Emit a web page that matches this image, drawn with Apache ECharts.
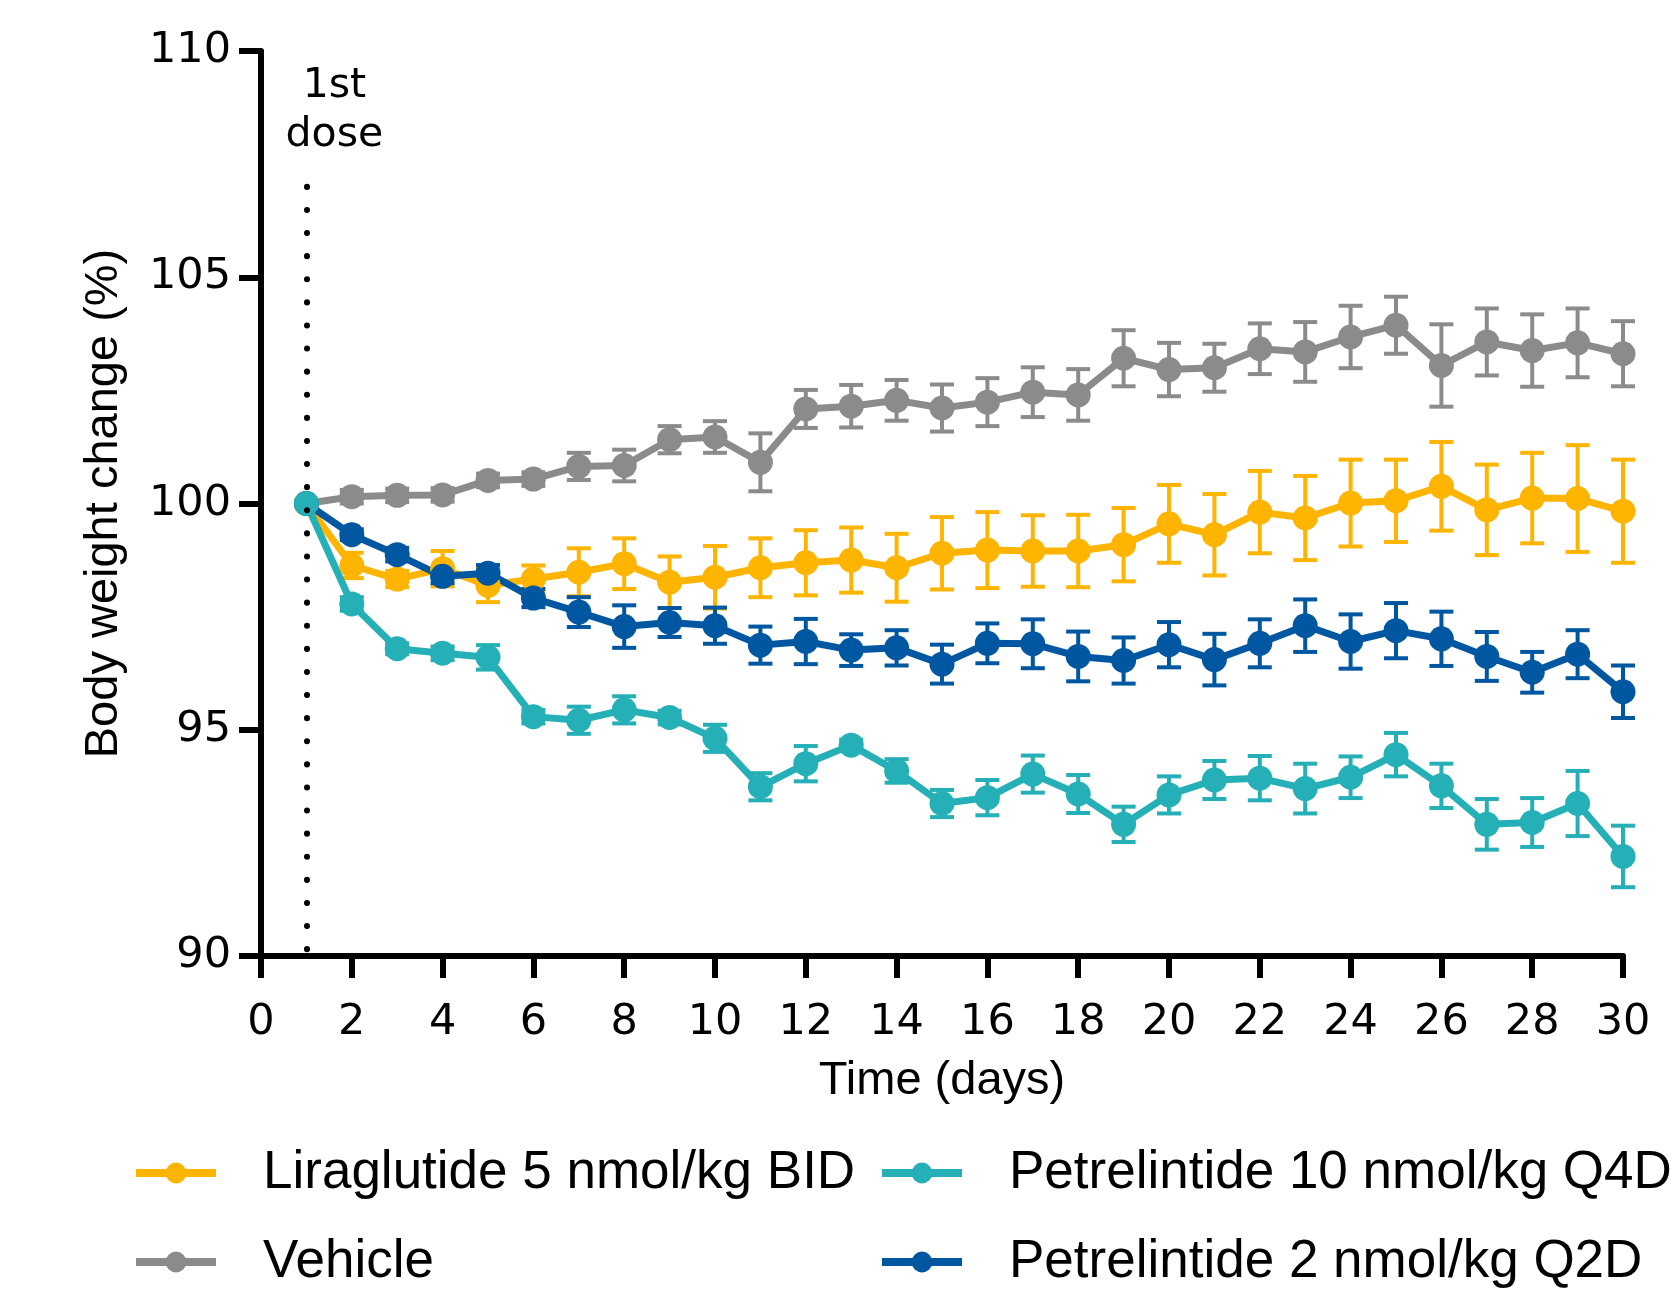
<!DOCTYPE html>
<html>
<head>
<meta charset="utf-8">
<script src="https://cdn.jsdelivr.net/npm/echarts@6/dist/echarts.min.js"></script>
<style>
  html, body { margin: 0; padding: 0; background: #fff; }
  #chart { width: 1679px; height: 1293px; }
</style>
</head>
<body>
<div id="chart"></div>
<script>
// ---- Data ----
const days = [1,2,3,4,5,6,7,8,9,10,11,12,13,14,15,16,17,18,19,20,21,22,23,24,25,26,27,28,29,30];

const seriesNames = [
  'Liraglutide 5 nmol/kg BID',
  'Vehicle',
  'Petrelintide 10 nmol/kg Q4D',
  'Petrelintide 2 nmol/kg Q2D'
];

const vehicle = [100.0,100.15,100.18,100.19,100.51,100.54,100.82,100.84,101.41,101.47,100.91,102.09,102.15,102.28,102.11,102.24,102.46,102.40,103.21,102.96,103.00,103.42,103.35,103.68,103.94,103.05,103.57,103.38,103.55,103.31];
const vehicleSem = [0,0.15,0.15,0.15,0.15,0.15,0.3,0.35,0.3,0.35,0.64,0.42,0.47,0.45,0.52,0.53,0.55,0.57,0.62,0.59,0.53,0.56,0.66,0.69,0.63,0.91,0.74,0.80,0.76,0.72];

const liraglutide = [100.0,98.63,98.33,98.56,98.19,98.33,98.48,98.67,98.26,98.37,98.58,98.69,98.75,98.58,98.90,98.97,98.95,98.95,99.09,99.55,99.31,99.81,99.68,100.01,100.06,100.38,99.86,100.12,100.11,99.83];
const liraglutideSem = [0,0.28,0.18,0.39,0.37,0.3,0.53,0.56,0.57,0.69,0.65,0.72,0.72,0.75,0.80,0.84,0.79,0.80,0.81,0.86,0.90,0.91,0.93,0.96,0.91,0.98,1.0,1.0,1.18,1.14];

const petrelintide2 = [100.0,99.31,98.87,98.39,98.46,97.91,97.60,97.28,97.37,97.30,96.87,96.95,96.76,96.81,96.45,96.91,96.90,96.62,96.53,96.88,96.55,96.91,97.30,96.95,97.19,97.01,96.62,96.27,96.67,95.84];
const petrelintide2Sem = [0,0.12,0.15,0.15,0.18,0.2,0.33,0.47,0.32,0.4,0.41,0.5,0.35,0.39,0.43,0.44,0.54,0.55,0.51,0.5,0.57,0.53,0.58,0.6,0.61,0.6,0.54,0.45,0.53,0.58];

const petrelintide10 = [100.0,97.78,96.79,96.69,96.60,95.29,95.21,95.44,95.27,94.81,93.74,94.25,94.66,94.09,93.37,93.50,94.02,93.58,92.91,93.56,93.89,93.93,93.70,93.95,94.45,93.76,92.91,92.95,93.37,92.20];
const petrelintide10Sem = [0,0.15,0.12,0.15,0.27,0.15,0.3,0.3,0.15,0.3,0.3,0.39,0.12,0.26,0.3,0.39,0.41,0.42,0.39,0.41,0.42,0.49,0.55,0.46,0.48,0.49,0.56,0.54,0.72,0.68];

const xTicks = { min: 0, max: 30, interval: 2 };
const yTicks = { min: 90, max: 110, interval: 5 };

const doseDay = 1;
const doseLineRange = [90.15, 107.1];
const doseLabel = '1st\ndose';

// ---- Styles ----
const colors = {
  vehicle: '#8a8c8c',
  lira: '#ffb400',
  pet10: '#25afb6',
  pet2: '#0057a1'
};
const AXIS_FONT = 'DejaVu Sans, Verdana, sans-serif';
const TITLE_FONT = 'Liberation Sans, Arial, sans-serif';

function pairs(vals) { return days.map((d, i) => [d, vals[i]]); }
function errPairs(vals, sem) { return days.map((d, i) => [d, vals[i] - sem[i], vals[i] + sem[i]]); }

function errorSeries(id, vals, sem, color) {
  return {
    type: 'custom',
    name: 'err-' + id,
    data: errPairs(vals, sem),
    encode: { x: 0, y: [1, 2] },
    silent: true,
    renderItem: function (params, api) {
      const x = api.value(0);
      const lo = api.coord([x, api.value(1)]);
      const hi = api.coord([x, api.value(2)]);
      const hw = 12;
      const style = { stroke: color, lineWidth: 4 };
      return {
        type: 'group',
        children: [
          { type: 'line', shape: { x1: lo[0], y1: lo[1], x2: hi[0], y2: hi[1] }, style: style },
          { type: 'line', shape: { x1: lo[0] - hw, y1: lo[1], x2: lo[0] + hw, y2: lo[1] }, style: style },
          { type: 'line', shape: { x1: hi[0] - hw, y1: hi[1], x2: hi[0] + hw, y2: hi[1] }, style: style }
        ]
      };
    }
  };
}

function lineSeries(name, vals, color, extra) {
  return Object.assign({
    type: 'line',
    name: name,
    data: pairs(vals),
    symbol: 'circle',
    symbolSize: 25,
    showAllSymbol: true,
    lineStyle: { color: color, width: 7 },
    itemStyle: { color: color },
    emphasis: { disabled: true },
    animation: false
  }, extra || {});
}

const chart = echarts.init(document.getElementById('chart'), null, { renderer: 'canvas' });

const legendCommon = {
  orient: 'vertical',
  itemWidth: 80,
  itemHeight: 26,
  itemGap: 33,
  padding: 0,
  selectedMode: false,
  lineStyle: { width: 8 },
  textStyle: {
    fontFamily: TITLE_FONT,
    fontSize: 53,
    color: '#000',
    lineHeight: 56,
    padding: [0, 0, 0, 42]
  }
};

chart.setOption({
  animation: false,
  backgroundColor: '#fff',
  grid: { left: 261, right: 56, top: 51, bottom: 337, containLabel: false },
  legend: [
    Object.assign({}, legendCommon, { left: 132, top: 1145, data: [seriesNames[0], seriesNames[1]] }),
    Object.assign({}, legendCommon, { left: 878, top: 1145, data: [seriesNames[2], seriesNames[3]] })
  ],
  xAxis: {
    type: 'value',
    min: xTicks.min, max: xTicks.max, interval: xTicks.interval,
    name: 'Time (days)',
    nameLocation: 'middle',
    nameGap: 102,
    nameTextStyle: { fontFamily: TITLE_FONT, fontSize: 47, color: '#000' },
    axisLine: { onZero: false, lineStyle: { color: '#000', width: 6 } },
    axisTick: { length: 22, lineStyle: { color: '#000', width: 6 } },
    axisLabel: { fontFamily: AXIS_FONT, fontSize: 43, color: '#000', margin: 45 },
    splitLine: { show: false }
  },
  yAxis: {
    type: 'value',
    min: yTicks.min, max: yTicks.max, interval: yTicks.interval,
    name: 'Body weight change (%)',
    nameLocation: 'middle',
    nameGap: 133,
    nameTextStyle: { fontFamily: TITLE_FONT, fontSize: 47, color: '#000' },
    axisLine: { show: true, lineStyle: { color: '#000', width: 6 } },
    axisTick: { show: true, length: 22, lineStyle: { color: '#000', width: 6 } },
    axisLabel: { fontFamily: AXIS_FONT, fontSize: 43, color: '#000', margin: 30 },
    splitLine: { show: false }
  },
  series: [
    errorSeries('vehicle', vehicle, vehicleSem, colors.vehicle),
    lineSeries(seriesNames[1], vehicle, colors.vehicle, {
      markLine: {
        silent: true,
        symbol: 'none',
        animation: false,
        lineStyle: { color: '#000', width: 6, type: [0.1, 23], cap: 'round' },
        label: {
          show: true,
          position: 'end',
          distance: 22,
          formatter: doseLabel,
          fontFamily: AXIS_FONT,
          fontSize: 41,
          lineHeight: 49,
          color: '#000',
          align: 'center',
          padding: [0, 0, 0, 56]
        },
        data: [[{ coord: [doseDay, doseLineRange[0]] }, { coord: [doseDay, doseLineRange[1]] }]]
      }
    }),
    errorSeries('lira', liraglutide, liraglutideSem, colors.lira),
    lineSeries(seriesNames[0], liraglutide, colors.lira),
    errorSeries('pet2', petrelintide2, petrelintide2Sem, colors.pet2),
    lineSeries(seriesNames[3], petrelintide2, colors.pet2),
    errorSeries('pet10', petrelintide10, petrelintide10Sem, colors.pet10),
    lineSeries(seriesNames[2], petrelintide10, colors.pet10)
  ]
});
</script>
</body>
</html>
